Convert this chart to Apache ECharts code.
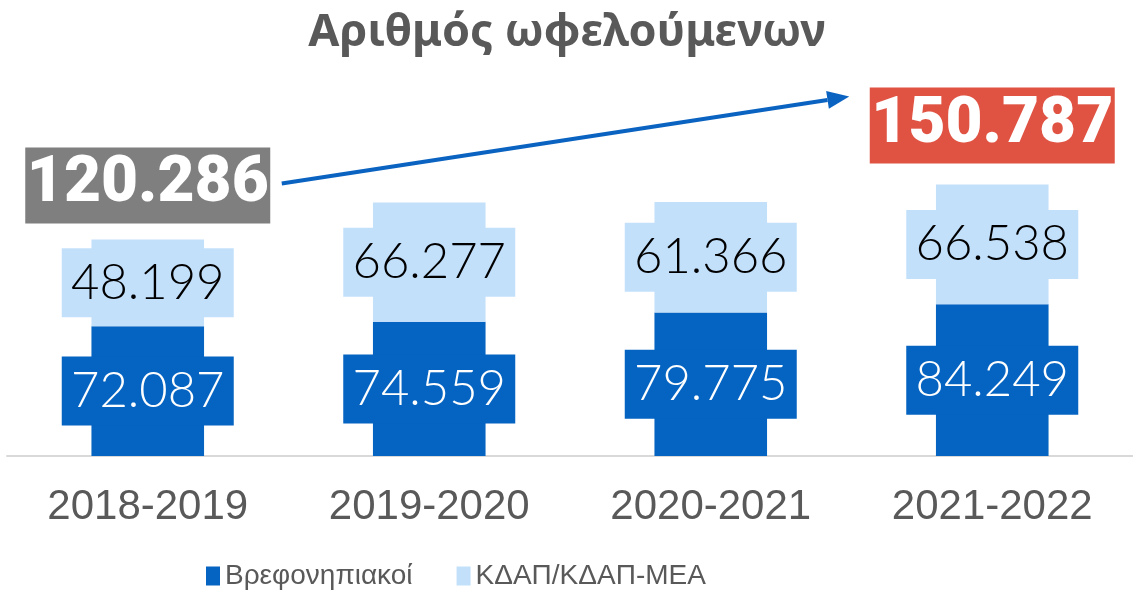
<!DOCTYPE html>
<html>
<head>
<meta charset="utf-8">
<script src="https://cdn.jsdelivr.net/npm/echarts@6/dist/echarts.min.js"></script>
<style>
  html, body { margin: 0; padding: 0; background: #fff; }
  #chart { width: 1133px; height: 600px; }
</style>
</head>
<body>
<div id="chart"></div>
<script>
// data
const years = ['2018-2019', '2019-2020', '2020-2021', '2021-2022'];
const infants = [72087, 74559, 79775, 84249];
const kdap = [48199, 66277, 61366, 66538];
const totals = [120286, 150787];   // only first and last year are annotated
const totalIdx = [0, 3];

const DARK = '#0563c1';
const LIGHT = '#c3e0fb';
const fmt = v => v.toLocaleString('de-DE');

const chart = echarts.init(document.getElementById('chart'));

const barLabel = (color, bg) => ({
  show: true,
  position: 'inside',
  formatter: p => fmt(p.value),
  color: color,
  fontFamily: 'Lato',
  fontWeight: 300,
  fontSize: 49,
  backgroundColor: bg,
  width: 172,
  height: 69,
  lineHeight: 69,
  align: 'center',
  verticalAlign: 'middle'
});

chart.setOption({
  animation: false,
  title: {
    text: 'Αριθμός ωφελούμενων',
    left: 562,
    textAlign: 'center',
    top: 6,
    textStyle: { fontFamily: 'Noto Sans', fontWeight: 'bold', fontSize: 45, color: '#595959' }
  },
  legend: {
    left: 201,
    bottom: 5,
    icon: 'rect',
    itemWidth: 14,
    itemHeight: 19,
    itemGap: 44,
    textStyle: { fontFamily: 'Liberation Sans', fontSize: 28, color: '#595959' },
    data: ['Βρεφονηπιακοί', 'ΚΔΑΠ/ΚΔΑΠ-ΜΕΑ']
  },
  grid: { left: 7, right: -6, top: 168, bottom: 144 },
  xAxis: {
    type: 'category',
    data: years,
    axisLine: { lineStyle: { color: '#d9d9d9', width: 2 } },
    axisTick: { show: false },
    axisLabel: { fontFamily: 'Liberation Sans', fontSize: 42, color: '#595959', margin: 30 }
  },
  yAxis: { type: 'value', min: 0, max: 160000, show: false, splitLine: { show: false } },
  series: [
    {
      name: 'Βρεφονηπιακοί',
      type: 'bar',
      stack: 'all',
      barWidth: '40%',
      itemStyle: { color: DARK },
      label: barLabel('#fff', DARK),
      data: infants
    },
    {
      name: 'ΚΔΑΠ/ΚΔΑΠ-ΜΕΑ',
      type: 'bar',
      stack: 'all',
      barWidth: '40%',
      itemStyle: { color: LIGHT },
      label: barLabel('#000', LIGHT),
      data: kdap
    },
    {
      name: 'totals',
      type: 'scatter',
      symbolSize: 0,
      silent: true,
      itemStyle: { opacity: 1 },
      data: totals.map((v, i) => ({
        value: [totalIdx[i], v],
        label: {
          backgroundColor: i === 0 ? '#7f7f7f' : '#e05343',
          distance: i === 0 ? 16 : 21
        }
      })),
      label: {
        show: true,
        opacity: 1,
        position: 'top',
        formatter: p => fmt(p.value[1]),
        color: '#fff',
        fontFamily: 'Roboto',
        fontWeight: 900,
        fontSize: 64,
        width: 245,
        height: 76,
        lineHeight: 76,
        align: 'center'
      }
    }
  ]
});

// arrow from the first total box to the last one
const p0 = chart.convertToPixel({ seriesIndex: 2 }, [totalIdx[0], totals[0]]);
const p1 = chart.convertToPixel({ seriesIndex: 2 }, [totalIdx[1], totals[1]]);
const x1 = p0[0] + 134, y1 = p0[1] - 56;
const x2 = p1[0] - 143, y2 = p1[1] - 88;
const ang = Math.atan2(y2 - y1, x2 - x1);
const headLen = 22, headW = 9;
const bx = x2 - headLen * Math.cos(ang), by = y2 - headLen * Math.sin(ang);
const nx = -Math.sin(ang), ny = Math.cos(ang);
chart.setOption({
  graphic: [
    {
      type: 'line',
      shape: { x1: x1, y1: y1, x2: bx, y2: by },
      style: { stroke: '#0b63c1', lineWidth: 4 },
      silent: true
    },
    {
      type: 'polygon',
      shape: { points: [[x2, y2], [bx + nx * headW, by + ny * headW], [bx - nx * headW, by - ny * headW]] },
      style: { fill: '#0b63c1' },
      silent: true
    }
  ]
});
</script>
</body>
</html>
